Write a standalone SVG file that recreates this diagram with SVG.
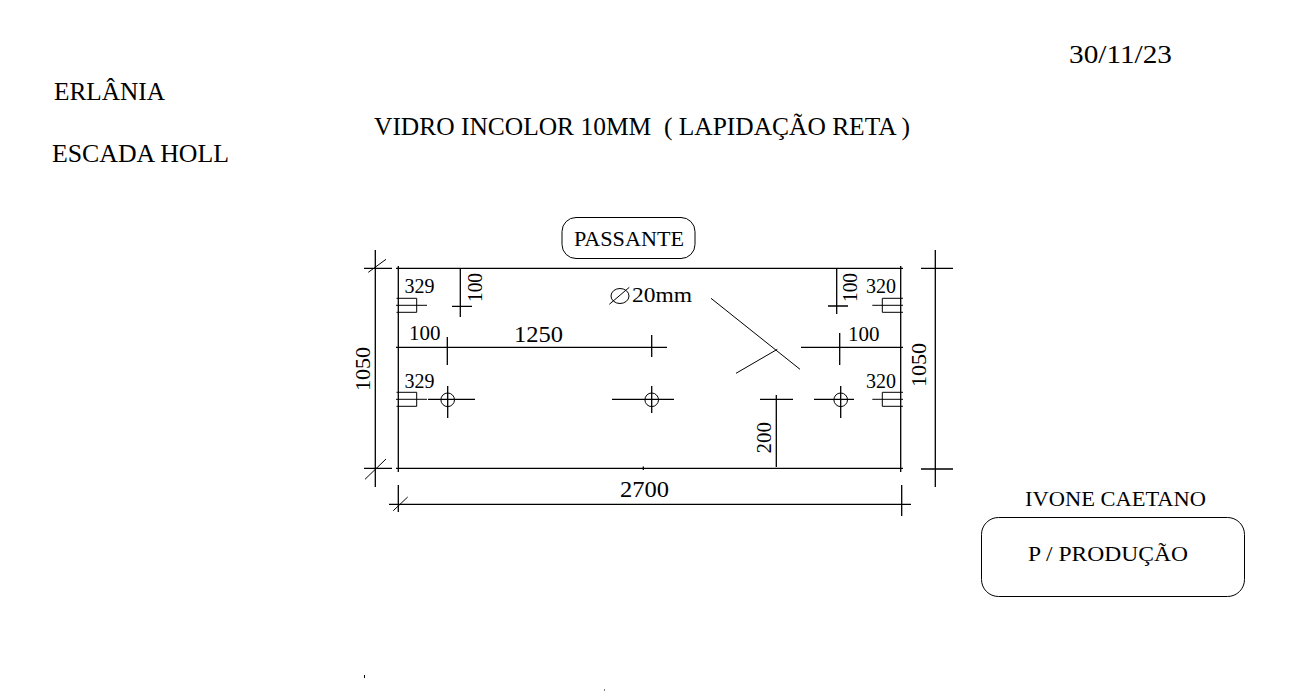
<svg xmlns="http://www.w3.org/2000/svg" width="1305" height="696" viewBox="0 0 1305 696">
<style>
text{font-family:"Liberation Serif","Times New Roman",serif;fill:#000}
.l{stroke:#000;stroke-width:1.3;fill:none}
.t{stroke:#000;stroke-width:1;fill:none}
.s22{font-size:22px}.s24{font-size:24px}.s25{font-size:25px}.s19{font-size:20px}.s20{font-size:21px}
</style>
<rect width="1305" height="696" fill="#fff"/>
<g id="titles">
<text class="s25" x="1069" y="63" textLength="103" lengthAdjust="spacingAndGlyphs">30/11/23</text>
<text class="s25" x="54" y="100" textLength="111" lengthAdjust="spacingAndGlyphs">ERLÂNIA</text>
<text class="s25" x="52" y="162" textLength="177" lengthAdjust="spacingAndGlyphs">ESCADA HOLL</text>
<text class="s25" x="374" y="135" textLength="536" lengthAdjust="spacingAndGlyphs" xml:space="preserve">VIDRO INCOLOR 10MM  ( LAPIDAÇÃO RETA )</text>
</g>
<g id="passante"><rect class="t" x="562" y="217.500" width="133" height="41" rx="14"/><text class="s22" x="574" y="246" textLength="110" lengthAdjust="spacingAndGlyphs">PASSANTE</text></g>
<g id="producao"><text class="s22" x="1025" y="506" textLength="181" lengthAdjust="spacingAndGlyphs">IVONE CAETANO</text><rect class="t" x="981.500" y="517.500" width="263" height="79" rx="17"/><text class="s22" x="1028" y="561" textLength="160" lengthAdjust="spacingAndGlyphs">P / PRODUÇÃO</text></g>
<g id="glass-panel"><path class="l" d="M398.300 266V472M900.700 266V472M396 268.300H903M396 468.300H903M643.300 466.500V470"/></g>
<g id="dimensions">
<path class="l" d="M375.300 250V487M364 268.300H392M364 468.300H392M935.300 250V487M921 268.300H953M921 469H953M389 504.300H911M398.300 485V512M901.700 485V516"/>
<path class="t" d="M368.300 272.300L386 259.300M365 479.300L386 459M393.300 510.700L407.700 497"/>
<path class="l" d="M396 347.300H667M447.300 337V365M651.700 335V357M801 347.300H903M839.700 333V365"/>
<path class="l" d="M460.300 268V317M452 306.300H472M836.700 268V314M828 306H848M776.300 395V467M760 399.300H793"/>
<path class="t" d="M711 298.300L800 369.300M736 373.300L777.300 349.300"/>
<path class="t" d="M609.300 304.300L629.300 287.300"/><ellipse class="t" cx="620" cy="296" rx="9" ry="7.500"/>
</g>
<g id="holes">
<path class="l" d="M428 399.300H475M447.700 386V418M612 399.300H674M651.700 386V413M814 399.300H854M840.700 386V418"/>
<circle class="t" cx="447.700" cy="399.800" r="6.800"/><circle class="t" cx="651.700" cy="399.800" r="6.800"/><circle class="t" cx="840.700" cy="399.800" r="6.800"/>
</g>
<g id="hinges">
<path class="t" d="M396.500 298.300H416.700V312.300H396.500M396 305.300H427M396.500 392.300H416.700V406.300H396.500M396 399.300H427M903 298.300H882.300V312.300H903M872.300 305.300H903M903 392.300H882.300V406.300H903M872.300 399.300H903"/>
</g>
<g id="dimension-labels">
<text class="s19" x="404.500" y="293">329</text>
<text class="s19" x="404.500" y="387.500">329</text>
<text class="s19" x="866" y="293">320</text>
<text class="s19" x="866" y="387.500">320</text>
<text class="s20" x="409" y="340">100</text>
<text class="s20" x="848" y="341">100</text>
<text class="s24" x="514" y="342" textLength="49" lengthAdjust="spacingAndGlyphs">1250</text>
<text class="s24" x="620" y="497" textLength="49" lengthAdjust="spacingAndGlyphs">2700</text>
<text class="s22" x="632" y="302" textLength="60" lengthAdjust="spacingAndGlyphs">20mm</text>
<text class="s19" transform="translate(481.500 302) rotate(-90)" textLength="29" lengthAdjust="spacingAndGlyphs">100</text>
<text class="s19" transform="translate(857 302) rotate(-90)" textLength="29" lengthAdjust="spacingAndGlyphs">100</text>
<text class="s20" transform="translate(770.500 453.500) rotate(-90)">200</text>
<text class="s22" transform="translate(370 391) rotate(-90)">1050</text>
<text class="s22" transform="translate(926 387) rotate(-90)">1050</text>
</g>
<path class="t" d="M364.500 675V678M604.500 689.500V690.500"/>
</svg>
